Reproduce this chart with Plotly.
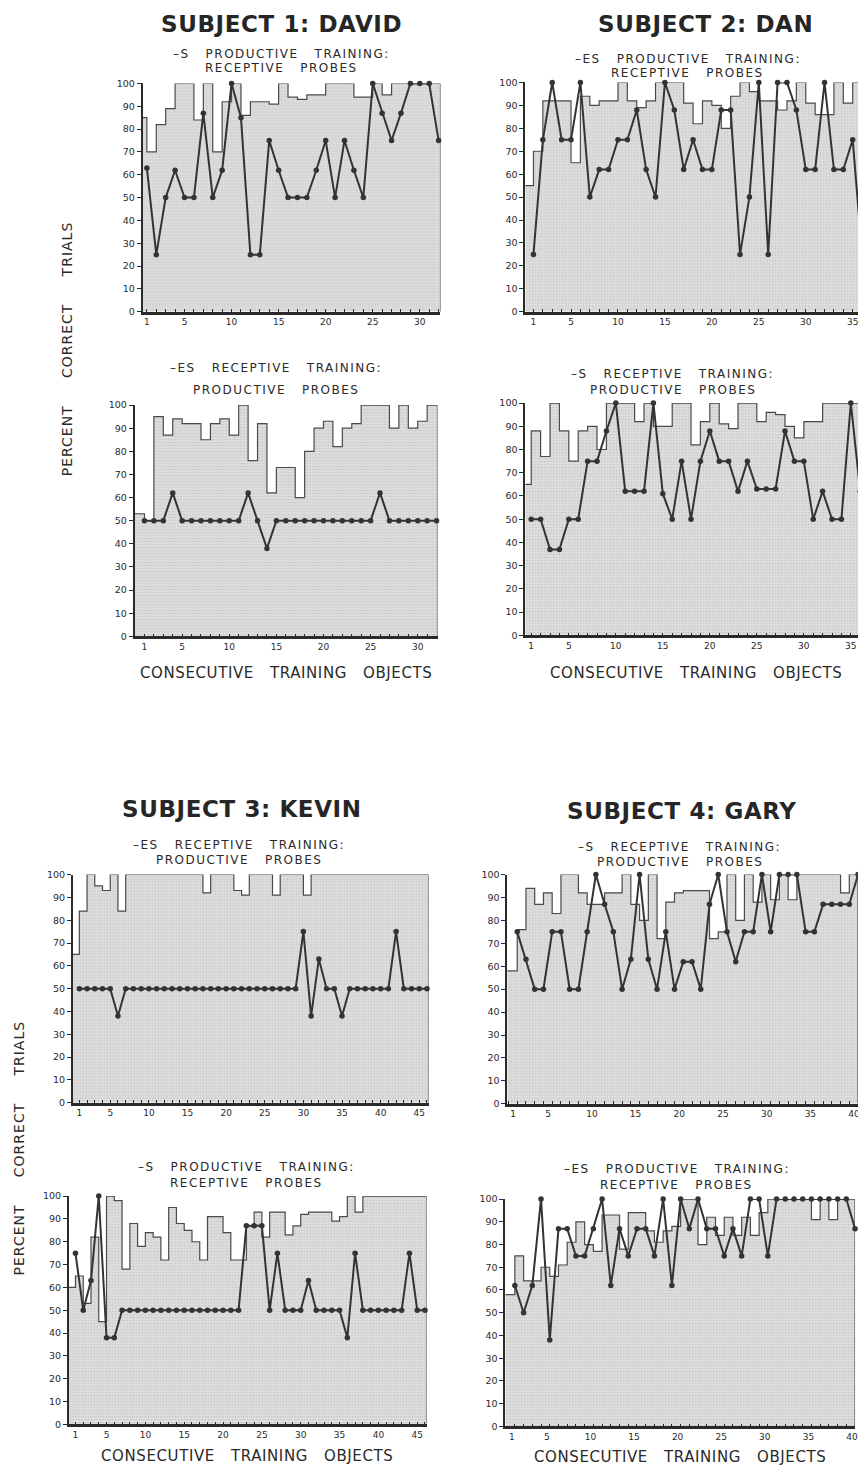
import plotly.graph_objects as go

W, H = 866, 1472
OFF = 8  # the page body adds an 8px margin; compensate so the picture lands where the reference has it

# ---------------- data (percent correct) ----------------
# Subject 1: David
david_top_probe = [63, 25, 50, 62, 50, 50, 87, 50, 62, 100, 85, 25, 25, 75, 62, 50, 50, 50, 62, 75,
                   50, 75, 62, 50, 100, 87, 75, 87, 100, 100, 100, 75]
david_top_steps = [85, 70, 82, 89, 100, 100, 84, 100, 70, 92, 100, 86, 92, 92, 91, 100, 94, 93, 95, 95,
                   100, 100, 100, 94, 94, 100, 95, 100, 100, 100, 100, 100]
david_bot_probe = [50, 50, 50, 62, 50, 50, 50, 50, 50, 50, 50, 62, 50, 38, 50, 50, 50, 50, 50, 50,
                   50, 50, 50, 50, 50, 62, 50, 50, 50, 50, 50, 50]
david_bot_steps = [53, 50, 95, 87, 94, 92, 92, 85, 92, 94, 87, 100, 76, 92, 62, 73, 73, 60, 80, 90,
                   93, 82, 90, 92, 100, 100, 100, 90, 100, 90, 93, 100]

# Subject 2: Dan
dan_top_probe = [25, 75, 100, 75, 75, 100, 50, 62, 62, 75, 75, 88, 62, 50, 100, 88, 62, 75, 62, 62,
                 88, 88, 25, 50, 100, 25, 100, 100, 88, 62, 62, 100, 62, 62, 75, 25]
dan_top_steps = [55, 70, 92, 92, 92, 65, 94, 90, 92, 92, 100, 92, 89, 92, 100, 100, 100, 91, 82, 92,
                 90, 80, 94, 100, 96, 92, 92, 88, 92, 100, 91, 86, 86, 100, 91, 100]
dan_bot_probe = [50, 50, 37, 37, 50, 50, 75, 75, 88, 100, 62, 62, 62, 100, 61, 50, 75, 50, 75, 88,
                 75, 75, 62, 75, 63, 63, 63, 88, 75, 75, 50, 62, 50, 50, 100, 62]
dan_bot_steps = [65, 88, 77, 100, 88, 75, 88, 90, 80, 100, 100, 100, 92, 100, 90, 90, 100, 100, 82, 92,
                 100, 91, 89, 100, 100, 92, 96, 95, 90, 85, 92, 92, 100, 100, 100, 100]

# Subject 3: Kevin
kevin_top_probe = [50, 50, 50, 50, 50, 38, 50, 50, 50, 50, 50, 50, 50, 50, 50, 50, 50, 50, 50, 50,
                   50, 50, 50, 50, 50, 50, 50, 50, 50, 75, 38, 63, 50, 50, 38, 50, 50, 50, 50, 50,
                   50, 75, 50, 50, 50, 50]
kevin_top_steps = [65, 84, 100, 95, 93, 100, 84, 100, 100, 100, 100, 100, 100, 100, 100, 100, 100, 92, 100, 100,
                   100, 93, 91, 100, 100, 100, 91, 100, 100, 100, 91, 100, 100, 100, 100, 100, 100, 100, 100, 100,
                   100, 100, 100, 100, 100, 100]
kevin_bot_probe = [75, 50, 63, 100, 38, 38, 50, 50, 50, 50, 50, 50, 50, 50, 50, 50, 50, 50, 50, 50,
                   50, 50, 87, 87, 87, 50, 75, 50, 50, 50, 63, 50, 50, 50, 50, 38, 75, 50, 50, 50,
                   50, 50, 50, 75, 50, 50]
kevin_bot_steps = [60, 65, 53, 82, 45, 100, 98, 68, 88, 78, 84, 82, 72, 95, 88, 85, 80, 72, 91, 91,
                   84, 72, 72, 87, 93, 82, 93, 93, 83, 87, 92, 93, 93, 93, 89, 91, 100, 93, 100, 100,
                   100, 100, 100, 100, 100, 100]

# Subject 4: Gary
gary_top_probe = [75, 63, 50, 50, 75, 75, 50, 50, 75, 100, 87, 75, 50, 63, 100, 63, 50, 75, 50, 62,
                  62, 50, 87, 100, 75, 62, 75, 75, 100, 75, 100, 100, 100, 75, 75, 87, 87, 87, 87, 100]
gary_top_steps = [58, 76, 94, 87, 92, 83, 100, 100, 92, 87, 87, 92, 92, 100, 87, 80, 100, 72, 88, 92,
                  93, 93, 93, 72, 75, 100, 80, 100, 88, 100, 89, 100, 89, 100, 100, 100, 100, 100, 92, 100]
gary_bot_probe = [62, 50, 62, 100, 38, 87, 87, 75, 75, 87, 100, 62, 87, 75, 87, 87, 75, 100, 62, 100,
                  87, 100, 87, 87, 75, 87, 75, 100, 100, 75, 100, 100, 100, 100, 100, 100, 100, 100, 100, 87]
gary_bot_steps = [58, 75, 64, 64, 70, 66, 71, 81, 90, 80, 77, 93, 93, 78, 94, 94, 86, 81, 86, 88,
                  100, 100, 80, 92, 84, 92, 84, 92, 84, 94, 100, 100, 100, 100, 100, 91, 100, 91, 100, 100]

# tick labels
x_ticks_32 = [1, 5, 10, 15, 20, 25, 30]
x_ticks_36 = [1, 5, 10, 15, 20, 25, 30, 35]
x_ticks_40 = [1, 5, 10, 15, 20, 25, 30, 35, 40]
x_ticks_46 = [1, 5, 10, 15, 20, 25, 30, 35, 40, 45]
y_ticks = [0, 10, 20, 30, 40, 50, 60, 70, 80, 90, 100]

subject_titles = ["SUBJECT 1: DAVID", "SUBJECT 2: DAN", "SUBJECT 3: KEVIN", "SUBJECT 4: GARY"]
x_title = "CONSECUTIVE TRAINING OBJECTS"
y_title = "PERCENT CORRECT TRIALS"

# ---------------- layout geometry (page pixels) ----------------
panels = [
    dict(probe=david_top_probe, steps=david_top_steps, ticks=x_ticks_32, box=(143, 442, 78, 308), xr=(0.54, 32.2),
         sub=("–S PRODUCTIVE TRAINING:", "RECEPTIVE PROBES"), subxy=(282, 48, 62), shift=0),
    dict(probe=david_bot_probe, steps=david_bot_steps, ticks=x_ticks_32, box=(135, 439, 402, 635), xr=(-0.05, 32.1),
         sub=("–ES RECEPTIVE TRAINING:", "PRODUCTIVE PROBES"), subxy=(277, 365, 387), shift=0),
    dict(probe=dan_top_probe, steps=dan_top_steps, ticks=x_ticks_36, box=(527, 866, 77, 308), xr=(0.12, 36.1),
         sub=("–ES PRODUCTIVE TRAINING:", "RECEPTIVE PROBES"), subxy=(690, 53, 67), shift=0),
    dict(probe=dan_bot_probe, steps=dan_bot_steps, ticks=x_ticks_36, box=(527, 866, 400, 634), xr=(0.36, 36.3),
         sub=("–S RECEPTIVE TRAINING:", "PRODUCTIVE PROBES"), subxy=(675, 371, 387), shift=0),
    dict(probe=kevin_top_probe, steps=kevin_top_steps, ticks=x_ticks_46, box=(73, 430, 875, 1105), xr=(0.15, 46.2),
         sub=("–ES RECEPTIVE TRAINING:", "PRODUCTIVE PROBES"), subxy=(240, 845, 860), shift=0),
    dict(probe=kevin_bot_probe, steps=kevin_bot_steps, ticks=x_ticks_46, box=(69, 428, 1199, 1429), xr=(0.14, 46.2),
         sub=("–S PRODUCTIVE TRAINING:", "RECEPTIVE PROBES"), subxy=(247, 1170, 1186), shift=0),
    dict(probe=gary_top_probe, steps=gary_top_steps, ticks=x_ticks_40, box=(509, 861, 875, 1106), xr=(-0.14, 40.0),
         sub=("–S RECEPTIVE TRAINING:", "PRODUCTIVE PROBES"), subxy=(682, 847, 862), shift=-4),
    dict(probe=gary_bot_probe, steps=gary_bot_steps, ticks=x_ticks_40, box=(507, 858, 1202, 1431), xr=(-0.1, 40.0),
         sub=("–ES PRODUCTIVE TRAINING:", "RECEPTIVE PROBES"), subxy=(679, 1172, 1188), shift=-3),
]

title_pos = [(282, 18), (708, 18), (243, 809), (684, 811)]
xtitle_pos = [(287, 672), (698, 672), (248, 1461), (682, 1462)]
ytitle_pos = [(68, 345), (20, 1150)]

FONT = "DejaVu Sans"
INK = "#2a2a2a"
NB = "\u00a0"


def spaced(text, n=2):
    return text.replace(" ", NB * n)


def px_x(px):
    return (px - OFF) / W


def px_y(py):
    return 1 - (py - OFF) / H


fig = go.Figure()
layout_axes = {}
annotations = []

for i, p in enumerate(panels, start=1):
    xa = "x" if i == 1 else f"x{i}"
    ya = "y" if i == 1 else f"y{i}"
    left, right, top, bottom = p["box"]
    xlo, xhi = p["xr"]
    steps = p["steps"]
    n = len(steps)
    # upper envelope drawn as a filled step line
    sx = [xlo] + list(range(1, n)) + [xhi, xhi]
    sy = list(steps) + [steps[-1], 0]
    fig.add_trace(go.Scatter(
        x=sx, y=sy, xaxis=xa, yaxis=ya, mode="lines", line_shape="hv",
        line=dict(color="#4a4a4a", width=1.2), fill="tozeroy",
        fillcolor="#dcdcdc",
        fillpattern=dict(shape=".", fgcolor="#a8a8a8", bgcolor="#dedede", size=3, solidity=0.25),
        hoverinfo="skip", showlegend=False, cliponaxis=False))
    probe = p["probe"]
    fig.add_trace(go.Scatter(
        x=list(range(1, len(probe) + 1)), y=probe, xaxis=xa, yaxis=ya,
        mode="lines+markers", line=dict(color="#333333", width=2),
        marker=dict(size=5.5, color="#333333"), showlegend=False, cliponaxis=False))

    xkey = "xaxis" if i == 1 else f"xaxis{i}"
    ykey = "yaxis" if i == 1 else f"yaxis{i}"
    layout_axes[xkey] = dict(
        domain=[max(0, px_x(left)), min(1, px_x(right))], range=[xlo, xhi], anchor=ya,
        showline=True, linecolor=INK, linewidth=2.5, showgrid=False, zeroline=False,
        tickmode="array", tickvals=p["ticks"], ticktext=[str(t) for t in p["ticks"]],
        ticks="inside", ticklen=3, tickwidth=1, tickcolor=INK, ticklabelshift=p["shift"],
        tickfont=dict(family=FONT, size=9, color=INK),
        minor=dict(tickmode="linear", tick0=0, dtick=1, ticks="inside", ticklen=3,
                   tickwidth=1, tickcolor=INK, showgrid=False),
        fixedrange=True)
    layout_axes[ykey] = dict(
        domain=[px_y(bottom), px_y(top)], range=[0, 100], anchor=xa,
        showline=True, linecolor=INK, linewidth=1.6, showgrid=False, zeroline=False,
        tickmode="array", tickvals=y_ticks, ticks="outside", ticklen=4, tickwidth=1.2,
        tickcolor=INK, tickfont=dict(family=FONT, size=9.5, color=INK), fixedrange=True)

    sx_c, sy1, sy2 = p["subxy"]
    for txt, yy in zip(p["sub"], (sy1, sy2)):
        annotations.append(dict(
            text=f'<span style="letter-spacing:1.5px">{spaced(txt, 3)}</span>',
            x=px_x(sx_c), y=px_y(yy), xref="paper", yref="paper",
            xanchor="center", yanchor="middle", showarrow=False,
            font=dict(family=FONT, size=12, color=INK)))

for txt, (tx, ty) in zip(subject_titles, title_pos):
    annotations.append(dict(
        text=f'<span style="letter-spacing:0.6px">{txt}</span>',
        x=px_x(tx), y=px_y(ty), xref="paper", yref="paper",
        xanchor="center", yanchor="middle", showarrow=False,
        font=dict(family=FONT, size=23, color="#262626", weight="bold")))

for tx, ty in xtitle_pos:
    annotations.append(dict(
        text=f'<span style="letter-spacing:0.6px">{spaced(x_title, 3)}</span>',
        x=px_x(tx), y=px_y(ty), xref="paper", yref="paper",
        xanchor="center", yanchor="middle", showarrow=False,
        font=dict(family=FONT, size=15, color=INK)))

for tx, ty in ytitle_pos:
    annotations.append(dict(
        text=f'<span style="letter-spacing:1px">{spaced(y_title, 5)}</span>',
        x=px_x(tx), y=px_y(ty), xref="paper", yref="paper", textangle=-90,
        xanchor="center", yanchor="middle", showarrow=False,
        font=dict(family=FONT, size=14, color=INK)))

fig.update_layout(
    width=W, height=H, autosize=False,
    margin=dict(l=0, r=0, t=0, b=0),
    paper_bgcolor="white", plot_bgcolor="white",
    showlegend=False, annotations=annotations, **layout_axes)

fig.write_html("out.html")
